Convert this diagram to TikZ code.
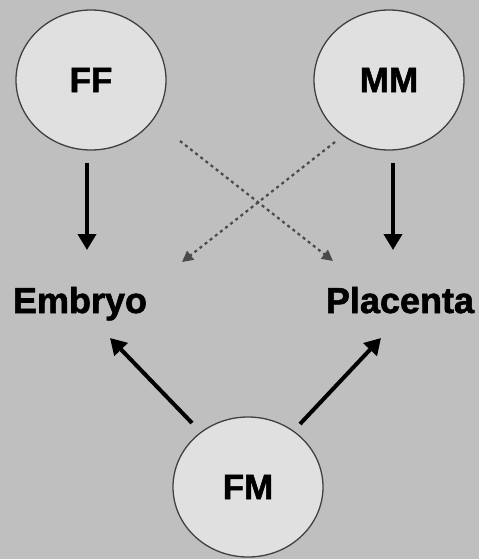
\documentclass[tikz,border=0pt]{standalone}
\usepackage{fontspec}
\setmainfont{Liberation Sans}[BoldFeatures={FakeBold=1.6}]
\usetikzlibrary{arrows.meta,shapes.geometric}
\definecolor{bg}{HTML}{BFBFBF}
\definecolor{cfill}{HTML}{E0E0E0}
\definecolor{dotc}{HTML}{4A4A4A}
\begin{document}
\begin{tikzpicture}[x=1pt,y=-1pt,
  parent/.style={ellipse,draw=black!75,line width=1.3pt,fill=cfill,minimum width=150pt,minimum height=140pt,inner sep=0pt,font=\bfseries\fontsize{35}{35}\selectfont},
  lbl/.style={font=\bfseries\fontsize{36}{36}\selectfont,inner sep=0pt,anchor=base},
  solidarrow/.style={line width=4pt,-{Triangle[length=16pt,width=18pt]}},
  dotarrow/.style={dotc,line width=2.2pt,dash pattern=on 3pt off 3.5pt,-{Triangle[length=11pt,width=11pt]}}]
\fill[bg] (0,0) rectangle (479,559);
\useasboundingbox (0,0) rectangle (479,559);
\node[parent] (ff) at (91,80) {FF};
\node[parent] (mm) at (389,80) {MM};
\node[parent] (fm) at (248,487) {FM};
\node[lbl] (emb) at (80,313) {Embryo};
\node[lbl] (pla) at (400,313) {Placenta};
\coordinate (ffa) at (87,163);
\coordinate (ffb) at (87,250);
\coordinate (mma) at (393,163);
\coordinate (mmb) at (393,250);
\draw[solidarrow] (ffa) -- (ffb);
\draw[solidarrow] (mma) -- (mmb);
\coordinate (d1a) at (180,141);
\coordinate (d1b) at (333,261);
\coordinate (d2a) at (335,142);
\coordinate (d2b) at (182,262);
\draw[dotarrow] (d1a) -- (d1b);
\draw[dotarrow] (d2a) -- (d2b);
\coordinate (fml) at (192,423);
\coordinate (fmlt) at (110,338);
\coordinate (fmr) at (300,424);
\coordinate (fmrt) at (381,338);
\draw[solidarrow] (fml) -- (fmlt);
\draw[solidarrow] (fmr) -- (fmrt);
\end{tikzpicture}
\end{document}
